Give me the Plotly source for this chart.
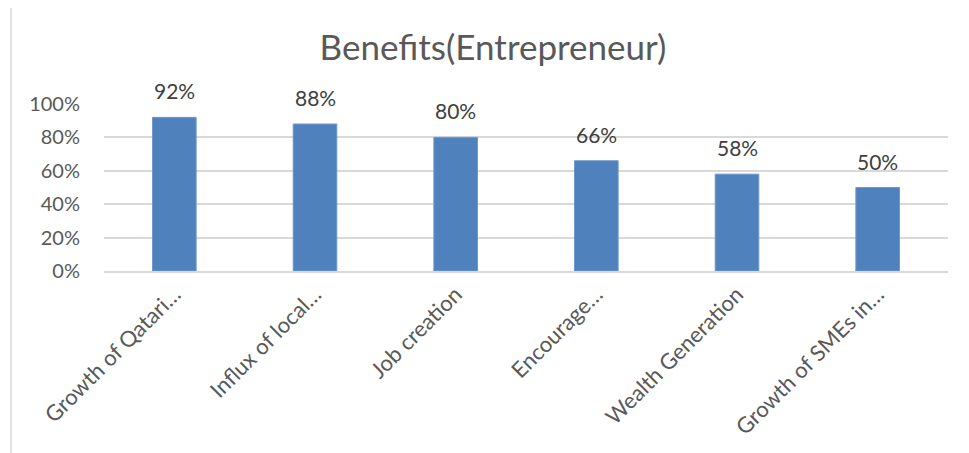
import plotly.graph_objects as go

categories = ["Growth of Qatari…", "Influx of local…", "Job creation", "Encourage…", "Wealth Generation", "Growth of SMEs in…"]
values = [0.92, 0.88, 0.80, 0.66, 0.58, 0.50]
labels = ["92%", "88%", "80%", "66%", "58%", "50%"]
title_text = "Benefits(Entrepreneur)"

OFF = 8  # page body margin
W, H = 969 - OFF, 453 - OFF
ml, mr, mt, mb = 104 - OFF, 21, 104 - OFF, 182
pw, ph = W - ml - mr, H - mt - mb

fig = go.Figure()
fig.add_trace(go.Bar(
    x=categories, y=values,
    marker=dict(color="#4F81BD", line=dict(color="#6E97CC", width=1)),
    width=0.31, hoverinfo="skip",
))

for c, v, t in zip(categories, values, labels):
    fig.add_annotation(x=c, y=v, text=t, showarrow=False, yanchor="bottom",
                       yshift=12, font=dict(family="Lato", size=21, color="#404040"))

# chart border (left & top visible)
bx = (11 - OFF - ml) / pw
by = (H - mb - (5 - OFF)) / ph
fig.add_shape(type="line", xref="paper", yref="paper", x0=bx, x1=(W - ml) / pw + 0.1,
              y0=by, y1=by, line=dict(color="#D9D9D9", width=1.5))
fig.add_shape(type="line", xref="paper", yref="paper", x0=bx, x1=bx,
              y0=by, y1=-mb / ph - 0.1, line=dict(color="#D9D9D9", width=1.5))

fig.update_layout(
    width=W, height=H,
    margin=dict(l=ml, r=mr, t=mt, b=mb, autoexpand=False),
    paper_bgcolor="white", plot_bgcolor="white",
    showlegend=False,
    title=dict(text=title_text, x=(493 - OFF) / W, xanchor="center", y=1 - (48 - OFF) / H, yanchor="middle",
               font=dict(family="Lato", size=35, color="#595959")),
    font=dict(family="Lato", color="#595959"),
    yaxis=dict(range=[0, 1], dtick=0.2, tickformat=".0%", showgrid=True, gridcolor="#D9D9D9",
               gridwidth=1.5, zeroline=False, showline=False, ticks="",
               tickfont=dict(size=20, color="#595959"), ticklabelstandoff=23, fixedrange=True),
    xaxis=dict(tickangle=-45, showline=True, linecolor="#D9D9D9", linewidth=2, ticks="",
               tickfont=dict(size=22, color="#595959"), showgrid=False, fixedrange=True),
)

fig.write_html("out.html")
